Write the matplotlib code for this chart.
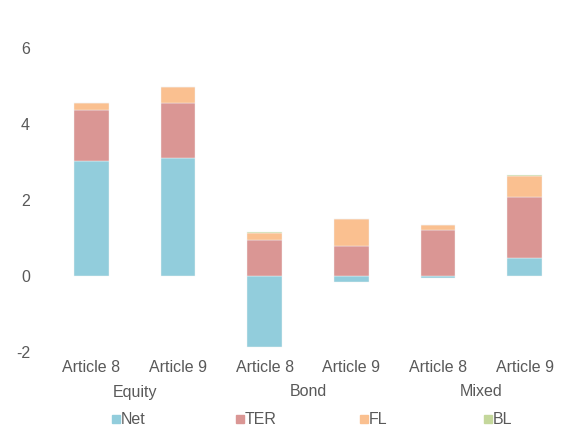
import numpy as np
import matplotlib.pyplot as plt
import matplotlib as mpl
from matplotlib.patches import Rectangle

mpl.rcParams.update({
    "font.family": ["Liberation Sans", "DejaVu Sans"], "font.size": 11.5,
    "text.color": "#595959", "xtick.color": "#595959", "ytick.color": "#595959",
    "axes.unicode_minus": False,
})

ARTICLES = ["Article 8", "Article 9", "Article 8", "Article 9", "Article 8", "Article 9"]
GROUPS = ["Equity", "Bond", "Mixed"]
SERIES = ["Net", "TER", "FL", "BL"]
COLORS = ["#92CDDC", "#DA9694", "#FAC090", "#C4D79B"]

net = [3.03, 3.11, -1.86, -0.15, -0.05, 0.47]
ter = [1.35, 1.45, 0.94, 0.79, 1.22, 1.60]
fl = [0.17, 0.41, 0.19, 0.70, 0.12, 0.55]
bl = [0.01, 0.01, 0.03, 0.0, 0.0, 0.03]

fig = plt.figure(figsize=(5.62, 4.38), dpi=100)
W, H = 562, 438
ax = fig.add_axes([48 / W, 1 - 352 / H, 520 / W, 9 * 38 / H])

x = np.arange(len(ARTICLES))
w = 0.4
kw = dict(width=w, edgecolor="#f4f4f4", linewidth=0.3)
net_a = np.array(net)
ax.bar(x, net_a, color=COLORS[0], **kw)
base = np.clip(net_a, 0, None)
for vals, col in zip((ter, fl, bl), COLORS[1:]):
    ax.bar(x, vals, bottom=base, color=col, **kw)
    base = base + np.array(vals)

ax.set_xlim(-0.5, 5.5)
ax.set_ylim(-2, 7)
ax.set_yticks([-2, 0, 2, 4, 6])
ax.set_xticks(x)
ax.set_xticklabels(ARTICLES)
ax.tick_params(axis="y", length=0, pad=13)
ax.tick_params(axis="x", length=0, pad=6)
for s in ax.spines.values():
    s.set_visible(False)

# category group labels under the article labels
trans = mpl.transforms.blended_transform_factory(ax.transData, fig.transFigure)
for i, g in enumerate(GROUPS):
    ax.text(2 * i + 0.5, 1 - 392 / H, g, transform=trans, ha="center", va="center")

# legend, evenly spaced like the spreadsheet original
for i, (name, col) in enumerate(zip(SERIES, COLORS)):
    x0 = (112 + 124 * i) / W
    fig.patches.append(Rectangle((x0, 1 - 423 / H), 8 / W, 8 / H,
                                 transform=fig.transFigure, color=col))
    fig.text(x0 + 9 / W, 1 - 419 / H, name, ha="left", va="center")

fig.savefig("out.png", dpi=100)
